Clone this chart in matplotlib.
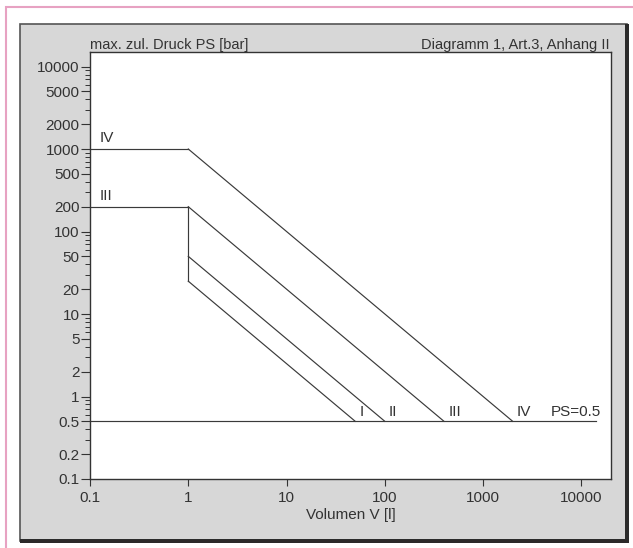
import numpy as np
import matplotlib
matplotlib.use("Agg")
import matplotlib.pyplot as plt
from matplotlib.patches import Rectangle
from matplotlib.ticker import LogLocator, NullFormatter

plt.rcParams['font.family'] = ['Liberation Sans', 'DejaVu Sans']

# category limits (PED diagram 1): PS*V = const for V > 1 l
cat_names = ['I', 'II', 'III', 'IV']
cat_pv = [25, 50, 200, 1000]          # bar*l
ps_min = 0.5                          # bar
v_knee = 1                            # l
flat_ps = {'III': 200, 'IV': 1000}    # horizontal limits for V <= 1 l
ps_line_end = 14000

x_ticks = [0.1, 1, 10, 100, 1000, 10000]
x_labels = ['0.1', '1', '10', '100', '1000', '10000']
y_ticks = [0.1, 0.2, 0.5, 1, 2, 5, 10, 20, 50, 100, 200, 500, 1000, 2000, 5000, 10000]
y_labels = ['0.1', '0.2', '0.5', '1', '2', '5', '10', '20', '50', '100', '200',
            '500', '1000', '2000', '5000', '10000']

W, H = 633, 548
fig = plt.figure(figsize=(W / 100, H / 100), dpi=100)
fig.patch.set_facecolor('white')


def frame_rect(x0, y0, w, h, **kw):
    # rectangle in pixel coords measured from the top left corner
    r = Rectangle((x0 / W, 1 - (y0 + h) / H), w / W, h / H, transform=fig.transFigure,
                  zorder=-10, **kw)
    fig.patches.append(r)


# frame decorations (scanned dialog look)
frame_rect(6, 7, 640, 560, facecolor='none', edgecolor='#e7a2c2', lw=1.5)
frame_rect(20, 24, 607, 517, facecolor='#d7d7d7', edgecolor='#555555', lw=1.2)
frame_rect(625, 24, 4, 519, facecolor='#2b2b2b', edgecolor='none')
frame_rect(20, 539, 609, 4, facecolor='#2b2b2b', edgecolor='none')

ax = fig.add_axes([90 / W, 1 - 479 / H, (611 - 90) / W, (479 - 52) / H])
ax.set_facecolor('white')
ax.set_xscale('log')
ax.set_yscale('log')
ax.set_xlim(0.1, 20000)
ax.set_ylim(0.1, 15000)

lc = '#3a3a3a'
lw = 0.85
# PS = 0.5 line
ax.plot([0.1, ps_line_end], [ps_min, ps_min], color=lc, lw=lw)
# vertical at V = 1 between category I and III limits
ax.plot([v_knee, v_knee], [cat_pv[0] / v_knee, flat_ps['III']], color=lc, lw=lw)
for name, pv in zip(cat_names, cat_pv):
    v = np.array([v_knee, pv / ps_min])
    ax.plot(v, pv / v, color=lc, lw=lw)
    ax.annotate(name, (pv / ps_min, ps_min), xytext=(3, 1.5), textcoords='offset points',
                ha='left', va='bottom', fontsize=11, color='#333333')
for name, ps in flat_ps.items():
    ax.plot([0.1, v_knee], [ps, ps], color=lc, lw=lw)
    ax.annotate(name, (0.1, ps), xytext=(7, 3), textcoords='offset points',
                ha='left', va='bottom', fontsize=11, color='#333333')
ax.annotate('PS=0.5', (ps_line_end, ps_min), xytext=(4, 1.5), textcoords='offset points',
            ha='right', va='bottom', fontsize=11, color='#333333')

ax.set_xticks(x_ticks, x_labels)
ax.xaxis.set_minor_locator(plt.NullLocator())
ax.set_yticks(y_ticks, y_labels)
ax.yaxis.set_minor_locator(LogLocator(base=10, subs=np.arange(2, 10)))
ax.yaxis.set_minor_formatter(NullFormatter())
ax.tick_params(axis='y', which='major', direction='out', length=6.5, width=0.8, pad=1,
               labelsize=11, colors='#333333')
ax.tick_params(axis='y', which='minor', direction='out', length=3.5, width=0.7, colors='#333333')
ax.tick_params(axis='x', which='major', direction='out', length=5, width=0.8, pad=3.5,
               labelsize=11, colors='#333333')
for s in ax.spines.values():
    s.set_color('#333333')
    s.set_linewidth(1.0)

ax.set_xlabel('Volumen V [l]', fontsize=11, color='#333333', labelpad=2)
fig.text(90 / W, 1 - 52 / H, 'max. zul. Druck PS [bar]', ha='left', va='bottom',
         fontsize=10.5, color='#333333')
fig.text(610 / W, 1 - 52 / H, 'Diagramm 1, Art.3, Anhang II', ha='right', va='bottom',
         fontsize=10.5, color='#333333')

fig.savefig('out.png', dpi=100, facecolor=fig.get_facecolor())
